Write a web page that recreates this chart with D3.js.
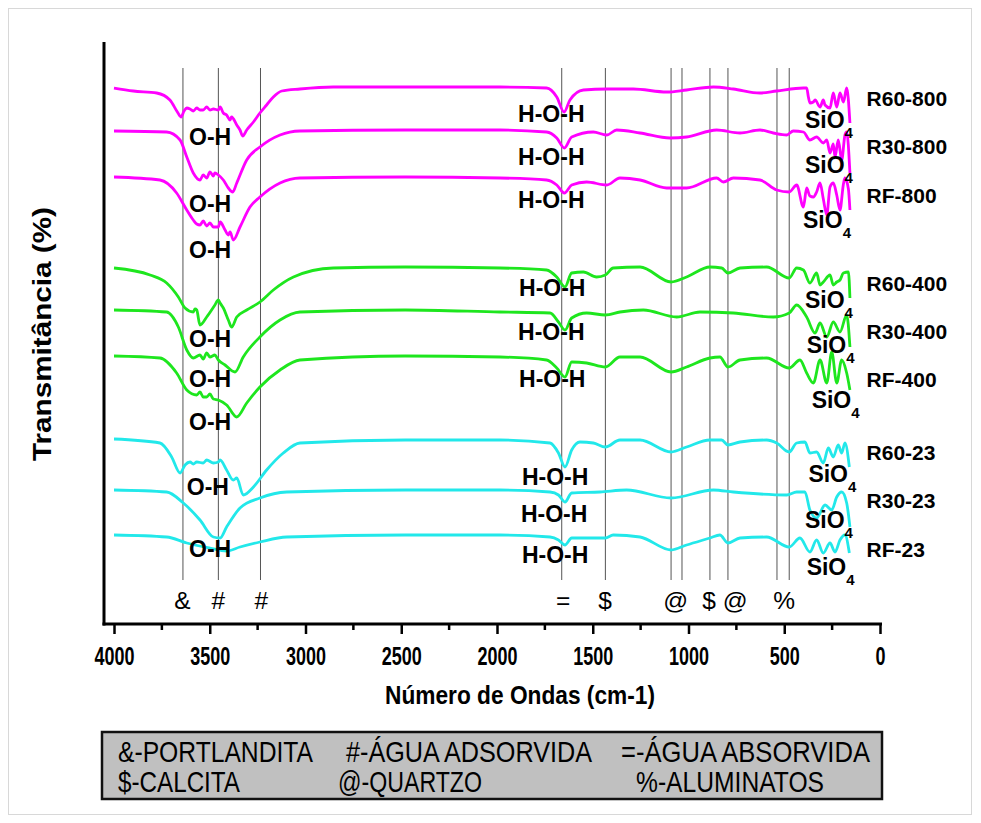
<!DOCTYPE html>
<html><head><meta charset="utf-8">
<script src="https://cdn.jsdelivr.net/npm/d3@7/dist/d3.min.js"></script>
<style>body{margin:0;background:#fff}text{font-family:"Liberation Sans",Arial,sans-serif}</style>
</head><body>
<svg id="c" width="981" height="823"></svg>
<script>
// ---------- DATA ----------
const seriesNames = ["R60-800","R30-800","RF-800","R60-400","R30-400","RF-400","R60-23","R30-23","RF-23"];
const seriesColors = ["#ff00ff","#ff00ff","#ff00ff","#1ee61e","#1ee61e","#1ee61e","#22e8ea","#22e8ea","#22e8ea"];

const R60_800 = [[4000,53.6],[3899,53.3],[3777,53.1],[3708,52.4],[3669,51.2],[3650,50.7],[3634,51.3],[3620,51.6],[3603,51.5],[3586,51.3],[3568,51.6],[3551,51.4],[3534,51.4],[3516,51.7],[3499,51.4],[3481,51.5],[3455,51.4],[3446,51.7],[3429,51.1],[3412,50.9],[3394,50.4],[3386,50.7],[3359,49.9],[3342,49.4],[3328,48.8],[3307,49.4],[3272,50.2],[3238,51.1],[3203,51.9],[3168,52.7],[3124,53.3],[3029,53.5],[2855,53.7],[2480,53.7],[1984,53.7],[1741,53.6],[1688,52.7],[1650,51.2],[1619,52.4],[1549,53.4],[1427,53.5],[1288,53.5],[1114,53.2],[1010,53.4],[870,53.7],[766,53.5],[627,53.1],[540,53.3],[400,53.6],[383,53.6],[374,52.7],[366,52.1],[348,52.2],[339,52.4],[313,51.7],[296,52.4],[287,51.9],[261,51.6],[244,53.1],[226,51.7],[209,53.1],[191,52.2],[174,53.6],[157,50.1]];
const R30_800 = [[4000,49.3],[3725,49.2],[3655,48.4],[3620,46.7],[3586,45.1],[3551,44.4],[3534,44.9],[3516,44.6],[3499,45.2],[3481,44.8],[3473,45.1],[3455,44.9],[3429,44.4],[3403,43.6],[3380,43.2],[3359,44.1],[3307,46.4],[3238,47.7],[3133,48.9],[3029,49.3],[2480,49.4],[1984,49.4],[1741,49.2],[1688,48.6],[1648,47.6],[1610,48.7],[1497,49.2],[1427,48.9],[1375,49.4],[1253,49.1],[1097,48.6],[1010,48.7],[853,49.4],[731,49.1],[627,49.4],[557,49.1],[487,48.9],[453,49.3],[400,49.2],[366,48.4],[331,48.7],[296,48.1],[278,48.4],[261,47.1],[244,48.0],[235,46.7],[218,48.4],[200,46.4],[183,48.9],[174,49.2],[157,45.1]];
const RF_800 = [[4000,44.7],[3760,44.4],[3673,43.1],[3620,41.4],[3586,40.4],[3568,40.0],[3551,39.9],[3534,40.3],[3516,39.8],[3499,40.1],[3481,39.7],[3455,39.7],[3446,40.2],[3420,39.4],[3403,38.9],[3394,39.2],[3377,38.4],[3342,39.7],[3290,41.7],[3238,42.7],[3133,44.1],[3029,44.6],[2480,44.7],[1984,44.6],[1741,44.4],[1688,43.9],[1648,43.1],[1610,43.9],[1532,44.2],[1427,43.9],[1358,44.6],[1253,44.4],[1114,43.6],[1010,43.6],[853,44.6],[818,44.2],[766,44.6],[627,44.4],[540,43.4],[474,43.2],[435,43.9],[400,41.7],[383,43.6],[366,42.8],[348,42.7],[331,43.2],[313,44.1],[296,42.5],[278,40.9],[261,43.7],[244,44.1],[226,42.9],[209,41.4],[191,44.0],[183,44.6],[165,43.5],[157,41.4]];
const R60_400 = [[4000,35.6],[3812,34.9],[3725,34.1],[3664,32.7],[3629,31.6],[3586,31.2],[3577,31.5],[3568,31.4],[3551,29.9],[3516,30.7],[3473,31.9],[3455,32.4],[3446,32.1],[3429,31.6],[3403,30.4],[3386,29.7],[3359,30.7],[3307,31.4],[3238,32.2],[3168,33.4],[3063,34.7],[2855,35.6],[2480,35.7],[1984,35.6],[1741,35.4],[1688,34.7],[1645,33.7],[1610,35.1],[1549,35.2],[1480,34.7],[1434,34.9],[1393,35.6],[1253,35.7],[1091,34.2],[1010,34.7],[888,35.7],[827,35.6],[794,35.1],[731,35.6],[592,35.7],[474,34.6],[435,35.6],[400,35.4],[366,34.1],[331,35.1],[313,33.9],[296,34.2],[261,34.9],[244,33.9],[226,34.2],[209,34.4],[191,35.1],[165,35.2],[157,32.6]];
const R30_400 = [[4000,31.4],[3725,31.2],[3664,29.7],[3620,27.4],[3586,26.6],[3551,26.9],[3534,26.5],[3516,27.1],[3499,26.7],[3473,26.9],[3455,26.4],[3420,25.9],[3368,25.2],[3325,26.7],[3238,28.7],[3133,30.4],[3029,31.2],[2480,31.4],[1984,31.2],[1723,31.1],[1679,30.2],[1645,29.4],[1610,30.6],[1532,31.1],[1434,30.9],[1358,31.2],[1236,31.4],[1062,30.7],[940,31.2],[766,31.1],[557,30.7],[474,31.1],[435,31.9],[383,30.7],[339,29.1],[313,30.1],[278,28.7],[244,30.2],[209,29.2],[174,30.9],[157,27.7]];
const RF_400 = [[4000,26.8],[3760,26.6],[3673,25.1],[3620,23.4],[3568,22.9],[3551,23.2],[3534,22.7],[3516,22.7],[3499,23.0],[3481,22.5],[3455,22.4],[3412,21.9],[3359,20.7],[3307,22.1],[3238,23.7],[3133,25.4],[3029,26.4],[2480,26.8],[1984,26.7],[1741,26.4],[1688,25.6],[1645,24.7],[1610,26.2],[1532,26.1],[1434,25.7],[1358,26.7],[1253,26.7],[1091,25.2],[1010,25.7],[888,26.6],[836,26.7],[794,25.7],[731,26.4],[592,26.6],[474,25.6],[418,26.4],[383,25.1],[348,24.1],[313,26.4],[278,24.1],[252,27.2],[226,24.1],[200,26.4],[174,25.1],[157,23.4]];
const R60_23 = [[4000,18.5],[3760,18.1],[3699,16.7],[3655,15.1],[3629,15.9],[3603,16.2],[3586,16.0],[3568,16.2],[3534,16.1],[3516,16.4],[3481,16.1],[3455,16.2],[3446,16.4],[3412,15.4],[3377,14.4],[3359,14.6],[3325,12.9],[3272,13.7],[3203,15.4],[3116,17.1],[3029,18.1],[2480,18.4],[1984,18.4],[1723,18.1],[1679,17.1],[1645,15.7],[1610,17.4],[1567,18.2],[1497,18.1],[1434,17.7],[1358,18.4],[1253,18.4],[1091,17.2],[1010,17.7],[888,18.4],[827,18.4],[794,17.9],[731,18.2],[592,18.4],[540,18.1],[474,17.2],[435,18.1],[392,18.2],[366,17.1],[331,17.2],[296,16.1],[270,17.6],[244,16.7],[218,17.9],[200,17.1],[183,18.1],[160,15.7]];
const R30_23 = [[4000,13.4],[3725,13.2],[3638,12.1],[3551,10.4],[3481,8.7],[3446,8.6],[3412,9.7],[3342,11.6],[3238,12.6],[3098,13.2],[2480,13.4],[1984,13.4],[1723,13.2],[1679,12.9],[1645,12.2],[1610,13.1],[1462,13.2],[1323,13.4],[1091,12.6],[870,13.4],[766,13.2],[487,12.9],[435,13.2],[392,13.2],[366,11.4],[331,10.6],[287,11.9],[252,11.4],[226,12.7],[200,13.2],[174,12.1],[157,9.7]];
const RF_23 = [[4000,8.9],[3725,8.7],[3620,8.1],[3499,7.6],[3412,7.3],[3342,7.7],[3238,8.2],[3098,8.7],[2480,8.9],[1984,8.9],[1723,8.7],[1679,8.4],[1645,7.9],[1610,8.6],[1532,8.6],[1434,8.6],[1393,8.9],[1253,8.7],[1091,7.4],[1010,7.9],[888,8.6],[836,8.9],[794,8.1],[731,8.6],[592,8.7],[474,7.7],[418,8.6],[366,7.2],[331,8.4],[296,7.1],[261,8.1],[235,7.2],[209,8.4],[183,8.9],[160,7.1]];
const seriesValues = [R60_800,R30_800,RF_800,R60_400,R30_400,RF_400,R60_23,R30_23,RF_23];

// label anchor positions (wavenumber, transmittance)
const seriesLabelPos = [[70,51.8],[70,47.0],[70,42.1],[70,33.3],[70,28.5],[70,23.7],[70,16.4],[70,11.6],[70,6.7]];
const ohLabelPos = [[3608,47.9],[3608,41.2],[3608,36.6],[3608,27.7],[3608,23.7],[3608,19.4],[3620,12.9],[3608,6.7]];
const hohLabelPos = [[1890,50.2],[1890,45.9],[1890,41.6],[1885,32.8],[1890,28.4],[1885,23.7],[1870,13.9],[1875,10.2],[1870,6.1]];
const sioLabelPos = [[392,49.6],[392,45.1],[402,39.6],[392,31.6],[383,27.1],[357,21.6],[374,14.2],[392,9.6],[383,4.9]];

const refLines = [3640,3455,3235,1662,1434,1091,1034,888,794,538,474];
const refSymbols = ["&","#","#","=","$","@","$","@","%"];
const refSymbolPos = [3643,3455,3231,1654,1436,1067,893,756,501];

const xTicksMajor = [4000,3500,3000,2500,2000,1500,1000,500,0];
const xTicksMinor = [3750,3250,2750,2250,1750,1250,750,250];

const legendRow1 = ["&-PORTLANDITA","#-ÁGUA ADSORVIDA","=-ÁGUA ABSORVIDA"];
const legendRow2 = ["$-CALCITA","@-QUARTZO","%-ALUMINATOS"];

// ---------- CHART ----------
const svg = d3.select("#c");
svg.append("rect").attr("x",8.5).attr("y",8.5).attr("width",963).attr("height",806)
  .attr("fill","none").attr("stroke","#d8d8d8").attr("stroke-width",1);

const x = d3.scaleLinear().domain([4000,0]).range([114,880]);
const y = d3.scaleLinear().domain([0,58.2]).range([624,42]);

// reference lines
svg.append("g").selectAll("line").data(refLines).join("line")
  .attr("x1",d=>x(d)).attr("x2",d=>x(d)).attr("y1",y(55.6)).attr("y2",y(4.4))
  .attr("stroke","#555").attr("stroke-width",1);

// spectra
const line = d3.line().x(d=>x(d[0])).y(d=>y(d[1])).curve(d3.curveMonotoneX);
svg.append("g").selectAll("path").data(seriesValues).join("path")
  .attr("d",line).attr("fill","none")
  .attr("stroke",(d,i)=>seriesColors[i]).attr("stroke-width",2.8)
  .attr("stroke-linejoin","round");

// axes
svg.append("line").attr("x1",104).attr("x2",104).attr("y1",42).attr("y2",625.5)
  .attr("stroke","#000").attr("stroke-width",3);
const xAxis = d3.axisBottom(x).tickValues(xTicksMajor).tickFormat(d3.format("d"))
  .tickSize(10).tickSizeOuter(0).tickPadding(13);
const gx = svg.append("g").attr("transform",`translate(0,${y(0)})`).call(xAxis);
gx.select(".domain").attr("d",`M102.5,0H882`).attr("stroke","#000").attr("stroke-width",3);
gx.selectAll(".tick line").attr("stroke","#000").attr("stroke-width",2.5);
gx.selectAll(".tick text").attr("font-size",25).attr("font-weight","bold").attr("fill","#000")
  .attr("textLength",d=>String(d).length*10).attr("lengthAdjust","spacingAndGlyphs")
  .style("font-family","'Liberation Sans',Arial,sans-serif");
gx.append("g").selectAll("line").data(xTicksMinor).join("line")
  .attr("x1",d=>x(d)).attr("x2",d=>x(d)).attr("y1",0).attr("y2",6)
  .attr("stroke","#000").attr("stroke-width",2.5);

// axis titles
svg.append("text").attr("x",520).attr("y",704).attr("text-anchor","middle")
  .attr("font-size",26).attr("font-weight","bold")
  .attr("textLength",270).attr("lengthAdjust","spacingAndGlyphs").text("Número de Ondas (cm-1)");
svg.append("text").attr("transform","translate(51,334) rotate(-90)").attr("text-anchor","middle")
  .attr("font-size",26).attr("font-weight","bold")
  .attr("textLength",254).attr("lengthAdjust","spacingAndGlyphs").text("Transmitância (%)");

// reference symbols
svg.append("g").selectAll("text").data(refSymbols).join("text")
  .attr("x",(d,i)=>x(refSymbolPos[i])).attr("y",y(1.55)).attr("text-anchor","middle")
  .attr("font-size",24.5).text(d=>d);

// O-H labels
svg.append("g").selectAll("text").data(ohLabelPos).join("text")
  .attr("x",d=>x(d[0])).attr("y",d=>y(d[1])).attr("font-size",23).attr("font-weight","bold").text("O-H");
// H-O-H labels
svg.append("g").selectAll("text").data(hohLabelPos).join("text")
  .attr("x",d=>x(d[0])).attr("y",d=>y(d[1])).attr("font-size",23).attr("font-weight","bold").text("H-O-H");
// SiO4 labels
const sio = svg.append("g").selectAll("text").data(sioLabelPos).join("text")
  .attr("x",d=>x(d[0])).attr("y",d=>y(d[1])).attr("font-size",23).attr("font-weight","bold");
sio.append("tspan").text("SiO");
sio.append("tspan").attr("dy",10).attr("font-size",15).text("4");
// series labels
svg.append("g").selectAll("text").data(seriesNames).join("text")
  .attr("x",(d,i)=>x(seriesLabelPos[i][0])).attr("y",(d,i)=>y(seriesLabelPos[i][1]))
  .attr("font-size",21).attr("font-weight","bold").text(d=>d);

// legend box
svg.append("rect").attr("x",102).attr("y",732).attr("width",780).attr("height",67)
  .attr("fill","#c0c0c0").attr("stroke","#111").attr("stroke-width",2.5);
const colX = [118,346,621];
const len1 = [195,246,249];
svg.append("g").selectAll("text").data(legendRow1).join("text")
  .attr("x",(d,i)=>colX[i]).attr("y",761.5).attr("font-size",29)
  .attr("textLength",(d,i)=>len1[i]).attr("lengthAdjust","spacingAndGlyphs").text(d=>d);
const colX2 = [118,338,636];
const len2 = [122,144,188];
svg.append("g").selectAll("text").data(legendRow2).join("text")
  .attr("x",(d,i)=>colX2[i]).attr("y",792).attr("font-size",29)
  .attr("textLength",(d,i)=>len2[i]).attr("lengthAdjust","spacingAndGlyphs").text(d=>d);
</script>
</body></html>
